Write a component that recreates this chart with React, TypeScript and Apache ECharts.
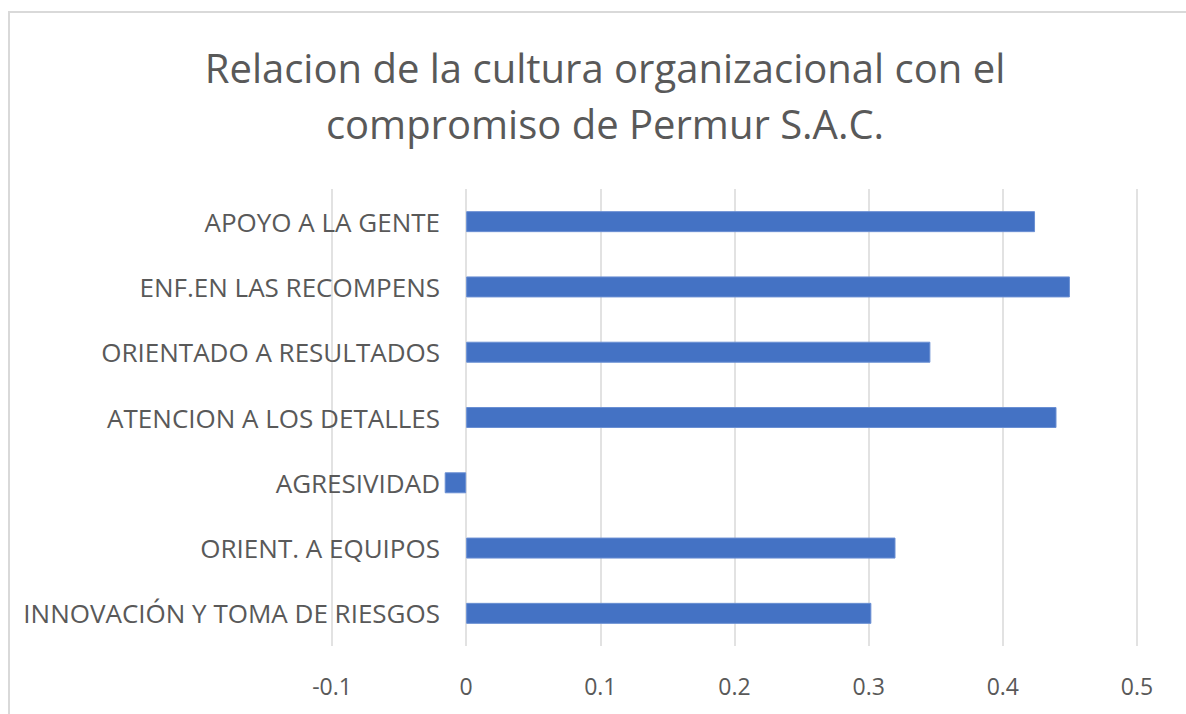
import React, { useEffect, useRef } from "react";
import * as echarts from "echarts";

const titleLines = ["Relacion de la cultura organizacional con el", "compromiso de Permur S.A.C."];
const categories = [
  "APOYO A LA GENTE",
  "ENF.EN LAS RECOMPENS",
  "ORIENTADO A RESULTADOS",
  "ATENCION A LOS DETALLES",
  "AGRESIVIDAD",
  "ORIENT. A EQUIPOS",
  "INNOVACIÓN Y TOMA DE RIESGOS",
];
const values = [0.424, 0.45, 0.346, 0.44, -0.016, 0.32, 0.302];
const axisMin = -0.1;
const axisMax = 0.5;
const axisStep = 0.1;

const FONT = "'Open Sans', 'Noto Sans', sans-serif";

export default function App() {
  const ref = useRef<HTMLDivElement>(null);
  useEffect(() => {
    document.body.style.margin = "0";
    if (!ref.current) return;
    const chart = echarts.init(ref.current, null, { renderer: "svg" });
    chart.setOption({
      animation: false,
      backgroundColor: "#ffffff",
      title: {
        text: titleLines.join("\n"),
        left: 600,
        textAlign: "center",
        top: 34,
        textStyle: {
          fontFamily: FONT,
          fontSize: 40,
          fontWeight: "normal",
          color: "#595959",
          lineHeight: 56,
        },
      },
      graphic: [
        {
          type: "rect",
          shape: { x: 9, y: 12, width: 1300, height: 900 },
          style: { fill: "none", stroke: "#d9d9d9", lineWidth: 2 },
          silent: true,
        },
      ],
      grid: {
        left: 332,
        right: 49,
        top: 189,
        bottom: 68,
        containLabel: false,
        outerBoundsMode: "none",
      },
      xAxis: {
        type: "value",
        min: axisMin,
        max: axisMax,
        interval: axisStep,
        axisLine: { show: false },
        axisTick: { show: false },
        splitLine: { show: true, lineStyle: { color: "#d9d9d9", width: 1.5 } },
        axisLabel: {
          fontFamily: FONT,
          fontSize: 23,
          color: "#595959",
          margin: 28,
          formatter: (v: number) => String(Math.round(v * 10) / 10),
        },
      },
      yAxis: {
        type: "category",
        data: categories,
        inverse: true,
        axisLine: { show: false },
        axisTick: { show: false },
        splitLine: { show: false },
        axisLabel: {
          fontFamily: FONT,
          fontSize: 26,
          color: "#595959",
          margin: -108,
        },
      },
      series: [
        {
          type: "bar",
          data: values,
          barWidth: 21,
          itemStyle: { color: "#4472C4", borderColor: "#6a8fd3", borderWidth: 1 },
        },
      ],
    });
    return () => chart.dispose();
  }, []);
  return <div ref={ref} style={{ width: 1186, height: 714 }} />;
}
